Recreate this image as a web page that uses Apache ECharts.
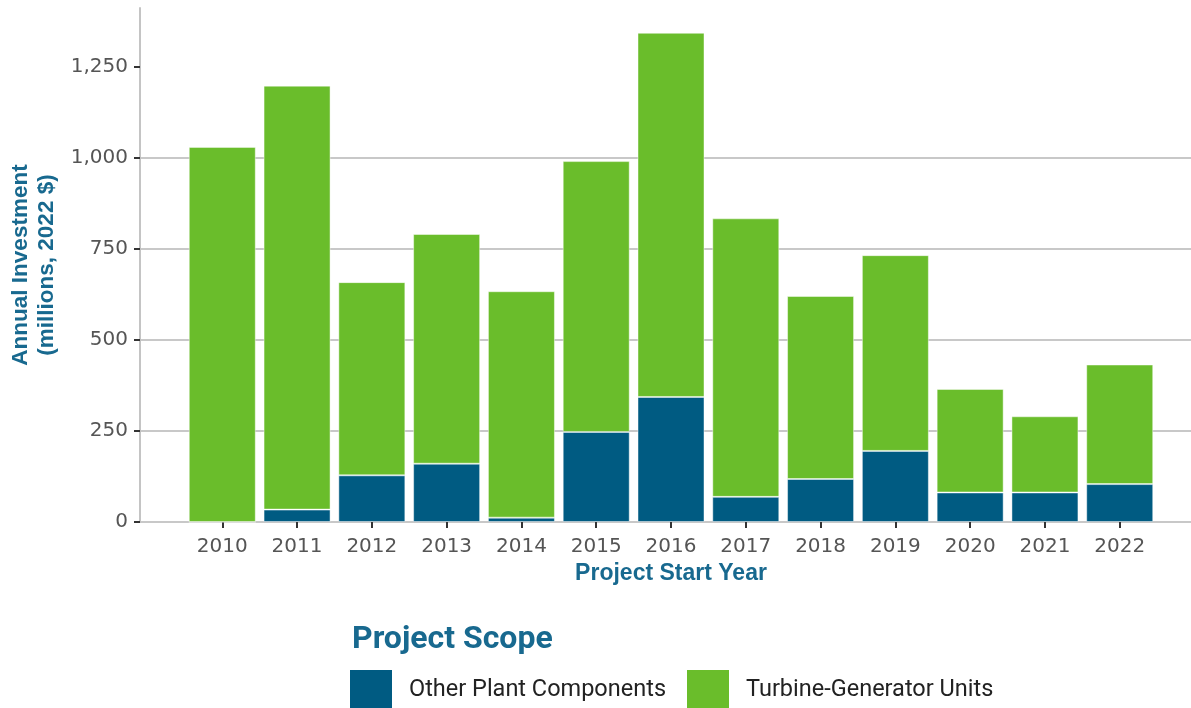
<!DOCTYPE html>
<html>
<head>
<meta charset="utf-8">
<script src="https://cdn.jsdelivr.net/npm/echarts@6/dist/echarts.min.js"></script>
<style>
    html, body { margin: 0; padding: 0; background: #fff; }
    #chart { width: 1191px; height: 708px; }
</style>
</head>
<body>
<div id="chart"></div>
<script>
    // values, millions of 2022 $
    var years = ['2010', '2011', '2012', '2013', '2014', '2015', '2016', '2017', '2018', '2019', '2020', '2021', '2022'];
    var otherPlant = [0, 34, 128, 160, 12, 247, 343, 69, 118, 195, 81, 81, 104];
    var turbineGen = [1029, 1163, 530, 630, 621, 743, 999, 764, 502, 537, 284, 209, 328];
    var yTicks = [0, 250, 500, 750, 1000, 1250];

    var blue = '#005b82';
    var green = '#6abd2b';
    var titleBlue = '#18698f';

    var idx = years.map(function (y, i) { return i; });

    // value first, position second, so the stack runs on the y dimension
    function pairs(arr) {
        return arr.map(function (v, i) { return [v, i]; });
    }

    function commas(v) {
        return String(v).replace(/\B(?=(\d{3})+(?!\d))/g, ',');
    }

    var chart = echarts.init(document.getElementById('chart'));

    var legendText = { fontFamily: 'Roboto', fontSize: 23.5, color: '#222', padding: [0, 0, 0, 12] };

    var option = {
        animation: false,
        backgroundColor: '#fff',
        title: {
            text: 'Project Scope',
            left: 347,
            top: 619,
            textStyle: { fontFamily: 'Roboto', fontWeight: 'bold', fontSize: 32, color: titleBlue }
        },
        legend: [{
            data: ['Other Plant Components'],
            left: 350,
            top: 670,
            padding: 0,
            itemWidth: 42,
            itemHeight: 40,
            icon: 'rect',
            itemStyle: { borderWidth: 0 },
            textStyle: legendText
        }, {
            data: ['Turbine-Generator Units'],
            left: 687,
            top: 670,
            padding: 0,
            itemWidth: 42,
            itemHeight: 40,
            icon: 'rect',
            itemStyle: { borderWidth: 0 },
            textStyle: legendText
        }],
        grid: {
            left: 140,
            right: -11,
            top: 8,
            bottom: 186,
            outerBoundsMode: 'none'
        },
        xAxis: {
            type: 'value',
            min: -1.1,
            max: 13.1,
            axisLine: { show: false },
            splitLine: { show: false },
            axisTick: {
                customValues: idx,
                length: 6,
                lineStyle: { color: '#333', width: 2 }
            },
            axisLabel: {
                customValues: idx,
                formatter: function (v) { return years[v]; },
                margin: 15,
                fontFamily: 'DejaVu Sans',
                fontSize: 20,
                color: '#555'
            },
            name: 'Project Start Year',
            nameLocation: 'middle',
            nameGap: 38,
            nameTextStyle: { fontFamily: 'Liberation Sans', fontWeight: 'bold', fontSize: 23, color: titleBlue }
        },
        yAxis: {
            type: 'value',
            min: 0,
            max: 1410,
            interval: 250,
            axisLine: { show: true, onZero: false, lineStyle: { color: '#c4c4c4', width: 2 } },
            axisTick: {
                show: true,
                customValues: yTicks,
                length: 6,
                lineStyle: { color: '#333', width: 2 }
            },
            axisLabel: {
                customValues: yTicks,
                formatter: function (v) { return commas(v); },
                margin: 12,
                fontFamily: 'DejaVu Sans',
                fontSize: 20,
                color: '#555'
            },
            splitLine: {
                show: true,
                showMaxLine: false,
                lineStyle: { color: '#c8c8c8', width: 2 }
            },
            name: 'Annual Investment\n(millions, 2022 $)',
            nameLocation: 'middle',
            nameGap: 78,
            nameTextStyle: { fontFamily: 'Liberation Sans', fontWeight: 'bold', fontSize: 22.5, lineHeight: 26, color: titleBlue }
        },
        series: [{
            name: 'Other Plant Components',
            type: 'bar',
            stack: 'scope',
            barWidth: 67,
            encode: { x: 1, y: 0 },
            itemStyle: { color: blue, borderColor: 'rgba(255,255,255,0.45)', borderWidth: 1 },
            data: pairs(otherPlant)
        }, {
            name: 'Turbine-Generator Units',
            type: 'bar',
            stack: 'scope',
            barWidth: 67,
            encode: { x: 1, y: 0 },
            itemStyle: { color: green, borderColor: 'rgba(255,255,255,0.45)', borderWidth: 1 },
            data: pairs(turbineGen)
        }]
    };

    chart.setOption(option);
</script>
</body>
</html>
